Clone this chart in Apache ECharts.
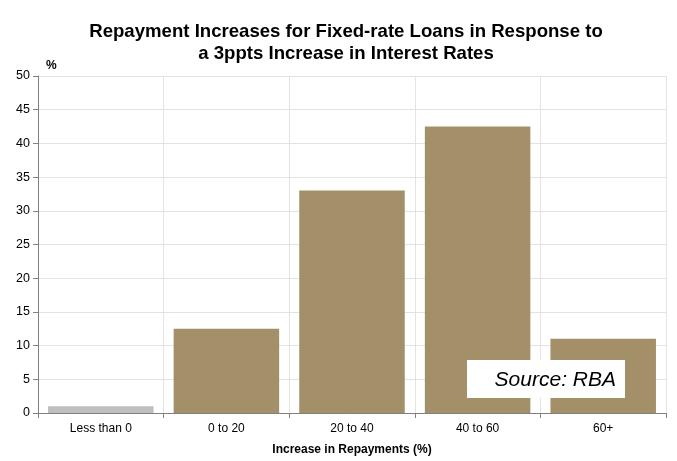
<!DOCTYPE html>
<html><head><meta charset="utf-8">
<script src="https://cdn.jsdelivr.net/npm/echarts@6/dist/echarts.min.js"></script>
<style>html,body{margin:0;padding:0;background:#fff}#c{width:677px;height:461px}</style>
</head><body><div id="c"></div>
<script>
const categories = ['Less than 0', '0 to 20', '20 to 40', '40 to 60', '60+'];
const values = [1.0, 12.5, 33.0, 42.5, 11.0];
const yTicks = [0, 5, 10, 15, 20, 25, 30, 35, 40, 45, 50];
const barColors = ['#BFBFBF', '#A39069', '#A39069', '#A39069', '#A39069'];

const chart = echarts.init(document.getElementById('c'));
const font = 'Liberation Sans, Arial, sans-serif';
chart.setOption({
  animation: false,
  title: {
    text: 'Repayment Increases for Fixed-rate Loans in Response to\na 3ppts Increase in Interest Rates',
    left: 341, textAlign: 'center', top: 16,
    textStyle: { fontFamily: font, fontSize: 18.6, fontWeight: 'bold', color: '#000', lineHeight: 22 }
  },
  grid: { left: 38, right: 11, top: 76, bottom: 48, containLabel: false },
  xAxis: {
    type: 'category', data: categories,
    name: 'Increase in Repayments (%)', nameLocation: 'middle', nameGap: 31,
    nameTextStyle: { fontFamily: font, fontSize: 12, fontWeight: 'bold', color: '#000' },
    axisLine: { lineStyle: { color: '#808080', width: 1 } },
    axisTick: { show: true, length: 5, lineStyle: { color: '#808080' } },
    axisLabel: { fontFamily: font, fontSize: 12, color: '#000', margin: 10 },
    splitLine: { show: true, lineStyle: { color: '#E3E3E3' } }
  },
  yAxis: {
    type: 'value', min: yTicks[0], max: yTicks[yTicks.length - 1], interval: 5,
    name: '%', nameLocation: 'end', nameGap: 4,
    nameTextStyle: { fontFamily: font, fontSize: 12, fontWeight: 'bold', color: '#000', align: 'left', padding: [0, 0, 0, 8] },
    axisLine: { show: true, lineStyle: { color: '#808080', width: 1 } },
    axisTick: { show: true, length: 5, lineStyle: { color: '#808080' } },
    axisLabel: { fontFamily: font, fontSize: 12.5, color: '#000', margin: 8 },
    splitLine: { show: true, lineStyle: { color: '#E3E3E3' } }
  },
  series: [{
    type: 'bar',
    data: values.map((v, i) => ({ value: v, itemStyle: { color: barColors[i] } })),
    barCategoryGap: '16%'
  }],
  graphic: [
    { type: 'rect', z: 100, zlevel: 1, shape: { x: 467, y: 360, width: 158, height: 38 }, style: { fill: '#fff' } },
    { type: 'text', z: 101, zlevel: 1, x: 616, y: 380, style: { text: 'Source: RBA', fontFamily: font, fontSize: 21, fontStyle: 'italic', fill: '#000', align: 'right', verticalAlign: 'middle' } }
  ]
});
</script></body></html>
